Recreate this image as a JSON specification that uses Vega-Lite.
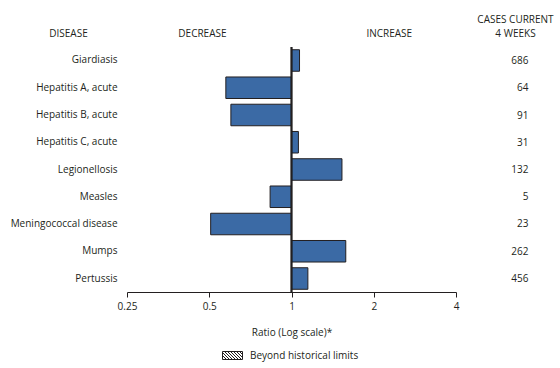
{
  "$schema": "https://vega.github.io/schema/vega-lite/v6.json",
  "autosize": {"type": "none"},
  "width": 329,
  "height": 245,
  "padding": {"left": 127, "top": 47, "right": 104, "bottom": 76},
  "background": "white",
  "config": {
    "view": {"stroke": null},
    "font": "Open Sans",
    "axis": {"labelFont": "Open Sans", "titleFont": "Open Sans", "labelColor": "#231f20", "titleColor": "#231f20", "titleFontWeight": "normal", "grid": false},
    "legend": {"labelFont": "Open Sans", "labelColor": "#231f20"}
  },
  "data": {
    "values": [
      {"disease": "Giardiasis", "ratio": 1.07, "cases": "686"},
      {"disease": "Hepatitis A, acute", "ratio": 0.575, "cases": "64"},
      {"disease": "Hepatitis B, acute", "ratio": 0.6, "cases": "91"},
      {"disease": "Hepatitis C, acute", "ratio": 1.06, "cases": "31"},
      {"disease": "Legionellosis", "ratio": 1.53, "cases": "132"},
      {"disease": "Measles", "ratio": 0.835, "cases": "5"},
      {"disease": "Meningococcal disease", "ratio": 0.506, "cases": "23"},
      {"disease": "Mumps", "ratio": 1.58, "cases": "262"},
      {"disease": "Pertussis", "ratio": 1.148, "cases": "456"}
    ]
  },
  "layer": [
    {
      "mark": {"type": "bar", "color": "#3b6aa5", "stroke": "#231f20", "strokeWidth": 1},
      "encoding": {
        "y": {"field": "disease", "type": "nominal", "sort": null,
          "scale": {"paddingInner": 0.21, "paddingOuter": 0.1},
          "axis": {"orient": "left", "ticks": false, "domain": false, "labelPadding": 10, "labelFontSize": 10,
            "title": "DISEASE", "titleAngle": 0, "titleAlign": "center", "titleBaseline": "alphabetic", "titleX": -59, "titleY": -11, "titleFontSize": 10}},
        "x": {"field": "ratio", "type": "quantitative",
          "scale": {"type": "log", "base": 2, "domain": [0.25, 4], "nice": false},
          "axis": {"orient": "bottom", "values": [0.25, 0.5, 1, 2, 4], "format": "~g", "tickSize": 5, "tickColor": "#231f20", "domainColor": "#231f20", "labelPadding": 4, "labelFontSize": 10, "labelFlush": false,
            "title": "Ratio (Log scale)*", "titleFontSize": 10, "titlePadding": 16}},
        "x2": {"datum": 1}
      }
    },
    {
      "mark": {"type": "rule", "color": "#231f20", "strokeWidth": 1.2},
      "encoding": {"x": {"datum": 1, "type": "quantitative", "axis": null}}
    },
    {
      "mark": {"type": "text", "text": ""},
      "encoding": {
        "y": {"field": "cases", "type": "nominal", "sort": null,
          "scale": {"paddingInner": 0.21, "paddingOuter": 0.1},
          "axis": {"orient": "right", "ticks": false, "domain": false, "labelAlign": "right", "labelPadding": 72, "labelFontSize": 10,
            "title": ["CASES CURRENT", "4 WEEKS"], "titleAngle": 0, "titleAlign": "center", "titleBaseline": "alphabetic", "titleX": 59, "titleY": -25, "titleLineHeight": 14, "titleFontSize": 10}},
        "x": {"field": "ratio", "type": "quantitative",
          "axis": {"orient": "top", "values": [0.47, 2.27], "labelExpr": "datum.value < 1 ? 'DECREASE' : 'INCREASE'", "ticks": false, "tickSize": 0, "domain": false, "labelPadding": 11, "labelBaseline": "alphabetic", "labelFontSize": 10, "labelFlush": false, "labelOverlap": false, "title": null}}
      }
    },
    {
      "mark": {"type": "point", "opacity": 0},
      "encoding": {
        "x": {"datum": 1, "type": "quantitative", "axis": null},
        "shape": {"datum": "Beyond historical limits", "type": "nominal",
          "scale": {"range": ["M-1,-0.4L1,-0.4L1,0.4L-1,0.4Z M-1,0L-0.6,0.4 M-1,-0.3L-0.3,0.4 M-0.8,-0.4L0,0.4 M-0.5,-0.4L0.3,0.4 M-0.2,-0.4L0.6,0.4 M0.1,-0.4L0.9,0.4 M0.4,-0.4L1,0.2 M0.7,-0.4L1,-0.1"]},
          "legend": {"orient": "none", "legendX": 95, "legendY": 298, "title": null, "symbolSize": 400, "symbolStrokeColor": "#231f20", "symbolStrokeWidth": 1, "symbolFillColor": "white", "symbolOpacity": 1, "labelFontSize": 10, "labelOffset": 7}}
      }
    }
  ],
  "resolve": {"scale": {"y": "independent"}, "axis": {"x": "independent", "y": "independent"}}
}
